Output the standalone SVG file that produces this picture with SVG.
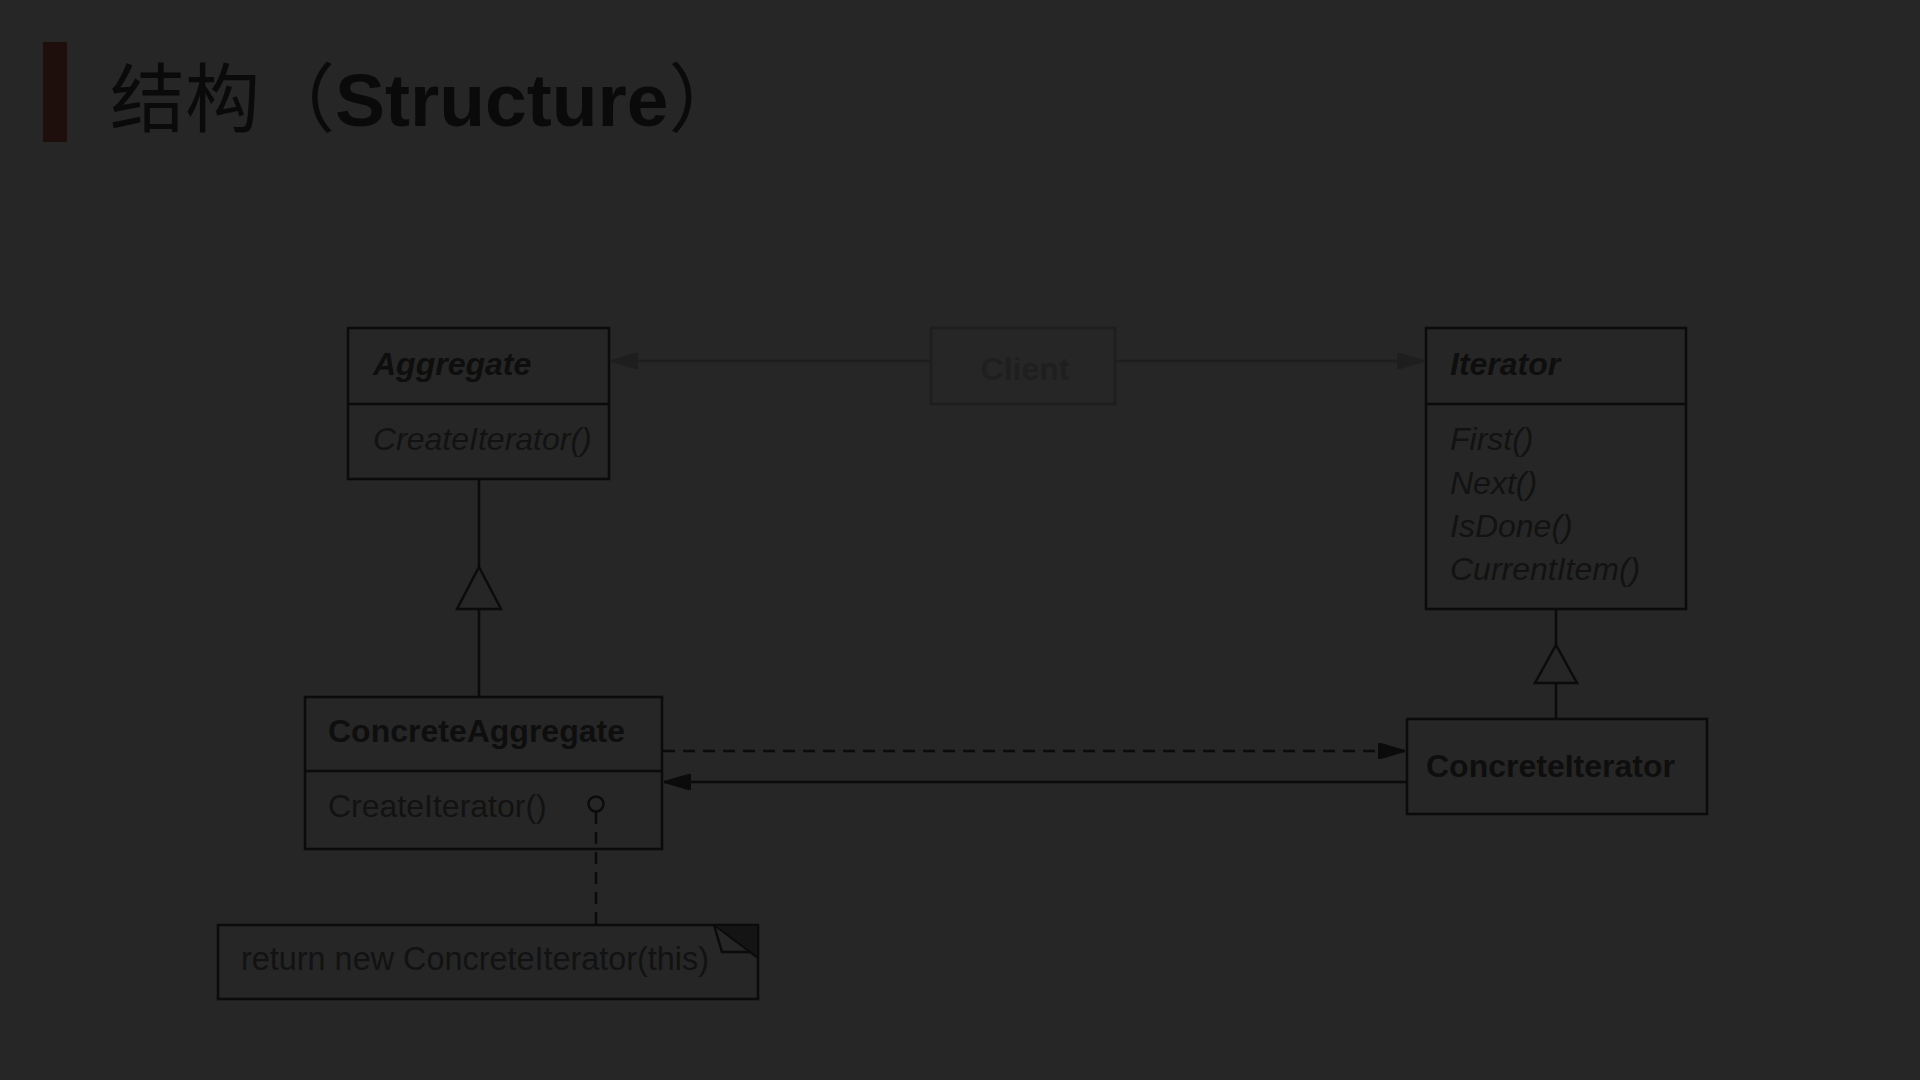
<svg xmlns="http://www.w3.org/2000/svg" width="1920" height="1080" viewBox="0 0 1920 1080">
<defs>
<style>
.box{fill:none;stroke:#0b0b0b;stroke-width:2.5}
.ln{fill:none;stroke:#0b0b0b;stroke-width:2.5}
.faint{fill:none;stroke:#1e1e1e;stroke-width:2.5}
.t{font-family:"Liberation Sans",Arial,sans-serif;font-size:32px;fill:#0e0e0e}
.b{font-weight:bold}
.i{font-style:italic}
.m{fill:#121212}
.ct{fill:#1f1f1f}
</style>
<marker id="ah" viewBox="0 0 28 18" refX="27" refY="9" markerWidth="28" markerHeight="18" markerUnits="userSpaceOnUse" orient="auto">
<path d="M0,1 L3,1 L27,8 L27,10 L3,17 L0,17 Z" fill="#0b0b0b"/>
</marker>
<marker id="ahf" viewBox="0 0 28 18" refX="27" refY="9" markerWidth="28" markerHeight="18" markerUnits="userSpaceOnUse" orient="auto">
<path d="M0,1 L3,1 L27,8 L27,10 L3,17 L0,17 Z" fill="#1e1e1e"/>
</marker>
</defs>
<rect x="0" y="0" width="1920" height="1080" fill="#262626"/>
<g id="title">
<rect x="43" y="42" width="24" height="100" fill="#1e0f0c"/>
<text x="110" y="126" font-family="'Liberation Sans','Noto Sans CJK SC',sans-serif" font-size="75" fill="#0a0a0a">结构（<tspan font-weight="bold">Structure</tspan>）</text>
</g>
<g id="connectors">
<line class="faint" x1="931" y1="361" x2="611" y2="361" marker-end="url(#ahf)"/>
<line class="faint" x1="1115" y1="361" x2="1424" y2="361" marker-end="url(#ahf)"/>
<line class="ln" x1="479" y1="479" x2="479" y2="567"/>
<line class="ln" x1="479" y1="609" x2="479" y2="697"/>
<polygon class="ln" points="479,567 501,609 457,609"/>
<line class="ln" x1="1556" y1="609" x2="1556" y2="645"/>
<line class="ln" x1="1556" y1="683" x2="1556" y2="719"/>
<polygon class="ln" points="1556,645 1577,683 1535,683"/>
<line class="ln" x1="663" y1="751" x2="1405" y2="751" stroke-dasharray="12 8" marker-end="url(#ah)"/>
<line class="ln" x1="1406" y1="782" x2="664" y2="782" marker-end="url(#ah)"/>
<circle class="ln" cx="596" cy="804" r="7.5"/>
<line class="ln" x1="596" y1="812" x2="596" y2="924" stroke-dasharray="12 8"/>
</g>
<g id="aggregate">
<rect class="box" x="348" y="328" width="261" height="151"/>
<line class="ln" x1="348" y1="404" x2="609" y2="404"/>
<text class="t b i" x="373" y="375">Aggregate</text>
<text class="t i m" x="373" y="450">CreateIterator()</text>
</g>
<g id="client">
<rect class="faint" x="931" y="328" width="184" height="76"/>
<text class="t b ct" x="1025" y="380" text-anchor="middle">Client</text>
</g>
<g id="iterator">
<rect class="box" x="1426" y="328" width="260" height="281"/>
<line class="ln" x1="1426" y1="404" x2="1686" y2="404"/>
<text class="t b i" x="1450" y="375">Iterator</text>
<text class="t i m" x="1450" y="450">First()</text>
<text class="t i m" x="1450" y="494">Next()</text>
<text class="t i m" x="1450" y="537">IsDone()</text>
<text class="t i m" x="1450" y="580">CurrentItem()</text>
</g>
<g id="concreteAggregate">
<rect class="box" x="305" y="697" width="357" height="152"/>
<line class="ln" x1="305" y1="771" x2="662" y2="771"/>
<text class="t b" x="328" y="742">ConcreteAggregate</text>
<text class="t m" x="328" y="817">CreateIterator()</text>
</g>
<g id="concreteIterator">
<rect class="box" x="1407" y="719" width="300" height="95"/>
<text class="t b" x="1426" y="777">ConcreteIterator</text>
</g>
<g id="note">
<rect class="box" x="218" y="925" width="540" height="74"/>
<polygon points="714,925 758,925 758,958" fill="#141414" stroke="#0b0b0b" stroke-width="2"/>
<polyline class="ln" points="714,925 722,952 751,952"/>
<text class="t m" x="241" y="970" style="font-size:32.4px">return new ConcreteIterator(this)</text>
</g>
</svg>
